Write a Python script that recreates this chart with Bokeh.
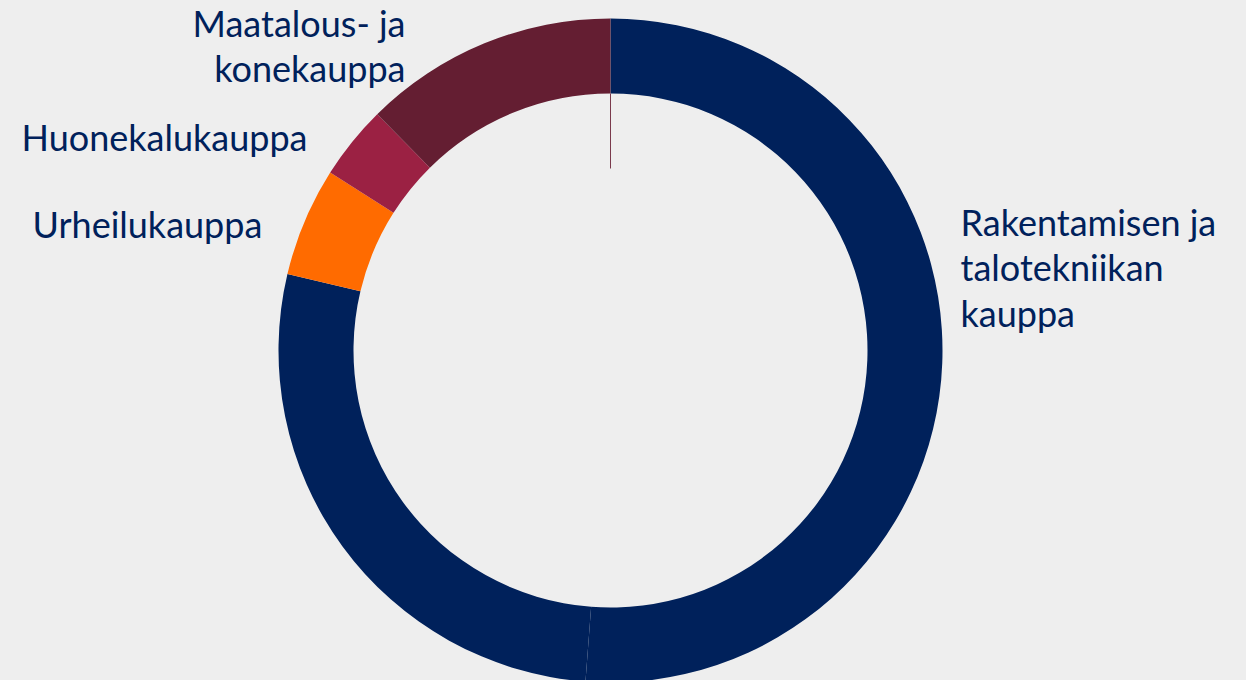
import math
from bokeh.plotting import figure
from bokeh.models import Range1d, ColumnDataSource
from bokeh.core.properties import value
from bokeh.embed import file_html
from bokeh.resources import INLINE

# ---- data (shares in percent, clockwise from 12 o'clock) ----
categories = ["Rakentamisen ja\ntalotekniikan\nkauppa", "", "Urheilukauppa",
              "Huonekalukauppa", "Maatalous- ja\nkonekauppa"]
shares = [51.2, 27.5, 5.3, 3.6, 12.4]
colors = ["#00215B", "#00215B", "#FF6B00", "#9B2143", "#641E32"]

# label layout (page-pixel anchors: x, baseline y of first line, align)
label_pos = [(960, 221, "left"), None, (32, 223, "left"),
             (21, 136, "left"), (405, 22, "right")]

W, H = 1246, 680
OX, OY = 0, 0              # page offset of the figure
CX, CY = 610, 350          # donut centre in page pixels
R_OUT, R_IN = 332, 257
BG = "#EEEEEE"
NAVY = "#00215B"

p = figure(width=W, height=H, output_backend="svg", toolbar_location=None,
           x_range=Range1d(OX - CX, OX + W - CX), y_range=Range1d(CY - (OY + H), CY - OY),
           min_border=0, background_fill_color=BG, border_fill_color=BG)
p.axis.visible = False
p.grid.visible = False
p.outline_line_color = None

total = sum(shares)
starts, ends = [], []
cum = 0.0
for s in shares:
    a0 = cum / total * 2 * math.pi
    cum += s
    a1 = cum / total * 2 * math.pi
    starts.append(math.pi / 2 - a0)
    ends.append(math.pi / 2 - a1)

src = ColumnDataSource(dict(start=starts, end=ends, color=colors))
p.annular_wedge(x=0, y=0, inner_radius=R_IN, outer_radius=R_OUT,
                start_angle="start", end_angle="end", direction="clock",
                fill_color="color", line_color=None, source=src)

# thin leader line at the start of the ring
p.segment(x0=[0], y0=[R_IN], x1=[0], y1=[R_IN - 75], line_color="#7A3A4C", line_width=1)

# labels
LH = 45.5
for lab, pos in zip(categories, label_pos):
    if not lab or pos is None:
        continue
    px, py, align = pos
    lines = lab.split("\n")
    xs = [px - CX] * len(lines)
    ys = [CY - (py + i * LH) for i in range(len(lines))]
    p.text(x=xs, y=ys, text=lines, text_font=value("Lato"), text_font_size="36px",
           text_color=NAVY, text_align=align, text_baseline="alphabetic")

html = file_html(p, INLINE)
html = html.replace("<head>", "<head><style>html,body{margin:0;padding:0;background:#EEEEEE;overflow:hidden;}</style>", 1)
open("out.html", "w").write(html)
